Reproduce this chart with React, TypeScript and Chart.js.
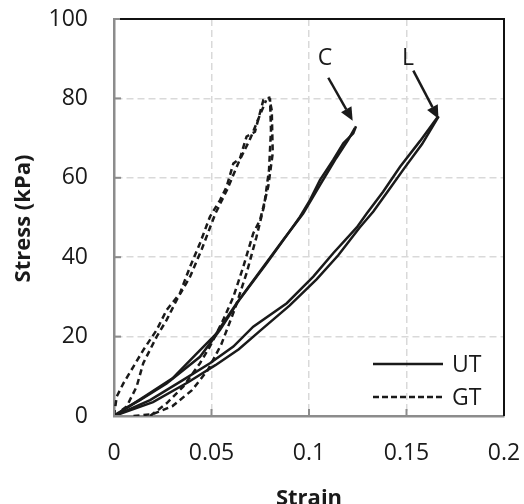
import React, { useEffect, useRef } from "react";
import { Chart, registerables } from "chart.js";

Chart.register(...registerables);

// ---------- axes ----------
const xTicks = [0, 0.05, 0.1, 0.15, 0.2];
const yTicks = [0, 20, 40, 60, 80, 100];
const xTitle = "Strain";
const yTitle = "Stress (kPa)";

// ---------- UT (solid) ----------
const utC1Strain = [0, 0.006, 0.0133, 0.027, 0.0441, 0.0544, 0.0646, 0.0783, 0.0886, 0.0954, 0.1005, 0.1056, 0.1124, 0.1176, 0.1227, 0.1241];
const utC1Stress = [0, 2, 4, 8.2, 14.9, 21.7, 29.5, 38.5, 45.5, 50.2, 54.4, 59.4, 64.5, 68.7, 71.2, 73];
const utC2Strain = [0, 0.008, 0.016, 0.03, 0.042, 0.052, 0.063, 0.075, 0.087, 0.097, 0.106, 0.114, 0.12, 0.1235];
const utC2Stress = [0, 2.5, 5, 9.5, 15.5, 20.5, 28.5, 36.5, 44.5, 51, 58.5, 65, 69.5, 72.5];
const utL1Strain = [0, 0.0185, 0.0355, 0.0492, 0.0612, 0.0714, 0.0886, 0.1022, 0.1124, 0.1245, 0.1296, 0.138, 0.1467, 0.157, 0.1658];
const utL1Stress = [0, 4, 9.1, 13.3, 17.5, 22.5, 28.4, 35.1, 41, 47.5, 51, 56.5, 62.8, 69.3, 75.2];
const utL2Strain = [0, 0.02, 0.038, 0.052, 0.064, 0.075, 0.09, 0.104, 0.115, 0.126, 0.133, 0.141, 0.149, 0.158, 0.1665];
const utL2Stress = [0, 3.5, 8.5, 12.8, 16.8, 21.5, 27.8, 34.5, 40.5, 47.5, 51.5, 57, 62.5, 68.5, 75.5];

// ---------- GT (dashed) ----------
const gtA1Strain = [0, 0.0014, 0.0048, 0.0099, 0.015, 0.0219, 0.027, 0.0338, 0.039, 0.0441, 0.0492, 0.0544, 0.0578, 0.0612, 0.0646, 0.068, 0.0723, 0.0766, 0.0791];
const gtA1Stress = [0, 4.9, 8.2, 12.4, 16.6, 21.7, 26.7, 30.9, 37.6, 43.5, 50.2, 54.4, 57.8, 63.6, 64.9, 70.4, 71.6, 79.6, 80];
const gtA2Strain = [0, 0.0065, 0.0116, 0.015, 0.0219, 0.027, 0.0321, 0.039, 0.045, 0.052, 0.058, 0.064, 0.07, 0.075, 0.078];
const gtA2Stress = [0, 2.4, 7.4, 13.3, 20, 24.2, 29.2, 35.1, 42, 51, 57, 64, 70, 76, 79.5];
const gtB1Strain = [0.0185, 0.027, 0.0355, 0.0441, 0.0492, 0.056, 0.0612, 0.0663, 0.0714, 0.0749, 0.0766, 0.0791, 0.0814, 0.0809, 0.0795];
const gtB1Stress = [0, 3.2, 7.4, 13.3, 17.5, 24.2, 30, 37.6, 46, 49.4, 52.7, 57.8, 66.2, 77, 80.5];
const gtB2Strain = [0.01, 0.02, 0.03, 0.04, 0.048, 0.055, 0.062, 0.068, 0.073, 0.077, 0.0795, 0.0805, 0.08];
const gtB2Stress = [0, 0.5, 2.5, 6.5, 11.5, 18, 27, 36, 45, 53, 62, 72, 80];

// ---------- legend & annotations ----------
const legendLabels = ["UT", "GT"];
const annotLabels = ["C", "L"];
const annotTextStrain = [0.1082, 0.1508];
const annotTextStress = [90, 90];
const arrowFromStrain = [0.1099, 0.1535];
const arrowFromStress = [85.2, 87.0];
const arrowToStrain = [0.1224, 0.1664];
const arrowToStress = [74.4, 74.9];

const FONT = "'Open Sans', 'DejaVu Sans', sans-serif";
const INK = "#1a1a1a";

const zip = (xs: number[], ys: number[]) => xs.map((x, i) => ({ x, y: ys[i] }));

const solid = (label: string, xs: number[], ys: number[]) => ({
  label,
  data: zip(xs, ys),
  showLine: true,
  borderColor: INK,
  borderWidth: 2.5,
  pointRadius: 0,
  fill: false,
  tension: 0,
});
const dashed = (label: string, xs: number[], ys: number[]) => ({
  ...solid(label, xs, ys),
  borderWidth: 2.5,
  borderDash: [6, 4],
});

const overlay = {
  id: "overlay",
  afterDraw(chart: any) {
    const { ctx, chartArea: a } = chart;
    const xs = chart.scales.x;
    const ys = chart.scales.y;
    ctx.save();
    // inside tick marks
    ctx.strokeStyle = "#8c8c8c";
    ctx.lineWidth = 2;
    xTicks.forEach((v) => {
      const px = xs.getPixelForValue(v);
      ctx.beginPath();
      ctx.moveTo(px, a.bottom);
      ctx.lineTo(px, a.bottom - 7);
      ctx.stroke();
    });
    yTicks.forEach((v) => {
      const py = ys.getPixelForValue(v);
      ctx.beginPath();
      ctx.moveTo(a.left, py);
      ctx.lineTo(a.left + 7, py);
      ctx.stroke();
    });
    // top & right frame
    ctx.strokeStyle = "#111";
    ctx.lineWidth = 2;
    ctx.beginPath();
    ctx.moveTo(a.left + 6, a.top);
    ctx.lineTo(a.right, a.top);
    ctx.lineTo(a.right, a.bottom);
    ctx.stroke();

    // annotations
    ctx.fillStyle = INK;
    ctx.strokeStyle = INK;
    ctx.font = `23px ${FONT}`;
    ctx.textAlign = "center";
    ctx.textBaseline = "middle";
    annotLabels.forEach((t, i) => {
      ctx.fillText(t, xs.getPixelForValue(annotTextStrain[i]), ys.getPixelForValue(annotTextStress[i]));
      const x1 = xs.getPixelForValue(arrowFromStrain[i]);
      const y1 = ys.getPixelForValue(arrowFromStress[i]);
      const x2 = xs.getPixelForValue(arrowToStrain[i]);
      const y2 = ys.getPixelForValue(arrowToStress[i]);
      const ang = Math.atan2(y2 - y1, x2 - x1);
      const hl = 13, hw = 6;
      const bx = x2 - hl * Math.cos(ang);
      const by = y2 - hl * Math.sin(ang);
      ctx.lineWidth = 2.5;
      ctx.beginPath();
      ctx.moveTo(x1, y1);
      ctx.lineTo(bx, by);
      ctx.stroke();
      ctx.beginPath();
      ctx.moveTo(x2, y2);
      ctx.lineTo(bx + hw * Math.sin(ang), by - hw * Math.cos(ang));
      ctx.lineTo(bx - hw * Math.sin(ang), by + hw * Math.cos(ang));
      ctx.closePath();
      ctx.fill();
    });

    // legend
    const lx1 = a.right - 131;
    const lx2 = a.right - 61;
    const rows = [a.bottom - 52, a.bottom - 19];
    ctx.textAlign = "left";
    rows.forEach((ry, i) => {
      ctx.lineWidth = 2.5;
      ctx.setLineDash(i === 0 ? [] : [6, 3]);
      ctx.beginPath();
      ctx.moveTo(lx1, ry);
      ctx.lineTo(lx2, ry);
      ctx.stroke();
      ctx.setLineDash([]);
      ctx.fillText(legendLabels[i], a.right - 52, ry + 1);
    });

    // axis titles
    ctx.font = `bold 22px ${FONT}`;
    ctx.textAlign = "center";
    ctx.textBaseline = "middle";
    ctx.fillText(xTitle, (a.left + a.right) / 2, 499);
    ctx.translate(24, (a.top + a.bottom) / 2 + 1);
    ctx.rotate(-Math.PI / 2);
    ctx.fillText(yTitle, 0, 0);
    ctx.restore();
  },
};

export default function App() {
  const ref = useRef<HTMLCanvasElement>(null);
  useEffect(() => {
    document.body.style.margin = "0";
    const canvas = ref.current!;
    const chart = new Chart(canvas, {
      type: "scatter",
      data: {
        datasets: [
          solid("UT C 1", utC1Strain, utC1Stress),
          solid("UT C 2", utC2Strain, utC2Stress),
          solid("UT L 1", utL1Strain, utL1Stress),
          solid("UT L 2", utL2Strain, utL2Stress),
          dashed("GT A 1", gtA1Strain, gtA1Stress),
          dashed("GT A 2", gtA2Strain, gtA2Stress),
          dashed("GT B 1", gtB1Strain, gtB1Stress),
          dashed("GT B 2", gtB2Strain, gtB2Stress),
        ] as any,
      },
      options: {
        responsive: false,
        animation: false,
        devicePixelRatio: 1,
        layout: { padding: { top: 19, right: 20, left: 0, bottom: 0 } },
        plugins: { legend: { display: false }, tooltip: { enabled: false } },
        scales: {
          x: {
            type: "linear",
            min: 0,
            max: 0.2,
            afterFit: (s: any) => {
              s.height = 88;
              s.paddingLeft = 0;
              s.paddingRight = 0;
            },
            afterBuildTicks: (s: any) => { s.ticks = xTicks.map((v) => ({ value: v })); },
            ticks: {
              font: { family: FONT, size: 23 },
              color: INK,
              padding: 24,
              maxRotation: 0,
              callback: (v: any) => String(Number(Number(v).toFixed(2))),
            },
            grid: { color: "#d9d9d9", lineWidth: 1.5, drawTicks: false },
            border: { color: "#8c8c8c", width: 2.5, dash: [7, 4] },
          },
          y: {
            type: "linear",
            min: 0,
            max: 100,
            afterFit: (s: any) => {
              s.width = 114;
              s.paddingTop = 0;
              s.paddingBottom = 0;
            },
            afterBuildTicks: (s: any) => { s.ticks = yTicks.map((v) => ({ value: v })); },
            ticks: {
              font: { family: FONT, size: 23 },
              color: INK,
              padding: 26,
            },
            grid: { color: "#d9d9d9", lineWidth: 1.5, drawTicks: false },
            border: { color: "#8c8c8c", width: 2.5, dash: [7, 4] },
          },
        },
      },
      plugins: [overlay],
    });
    return () => chart.destroy();
  }, []);
  return <canvas ref={ref} width={524} height={504} style={{ display: "block" }} />;
}
